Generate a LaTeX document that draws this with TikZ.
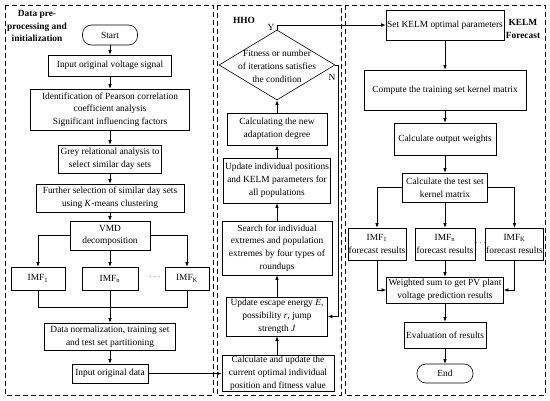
\documentclass[tikz,border=0pt]{standalone}
\usepackage{fontspec}
\setmainfont{Liberation Serif}
\usetikzlibrary{shapes.geometric,arrows.meta}
\begin{document}
\begin{tikzpicture}[x=1pt,y=-1pt,
  every node/.style={font=\fontsize{9.4}{12.8}\selectfont},
  box/.style={draw,line width=0.6pt,align=center,inner sep=1.2pt},
  term/.style={box,rounded corners=9pt},
  panel/.style={draw,line width=0.9pt,dash pattern=on 5pt off 3pt},
  arr/.style={line width=0.6pt,-{Latex[length=4.5pt,width=3.5pt]}},
  ln/.style={line width=0.6pt},
  ttl/.style={font=\fontsize{9.4}{12.8}\selectfont\bfseries,align=center,inner sep=0pt}]
\fill[white] (0,0) rectangle (550,400);
\useasboundingbox (0,0) rectangle (550,400);

% panels
\draw[panel] (5,5) rectangle (213,395);
\draw[panel] (217,5) rectangle (341,395);
\draw[panel] (345,5) rectangle (545,395);

% ---------- left panel ----------
\node[ttl] (t1) at (37,26) {Data pre-\\processing and\\initialization};
\node[term,minimum width=55,minimum height=20] (start) at (110,35) {Start};
\node[box,minimum width=123,minimum height=21] (in1) at (110,65.5) {Input original voltage signal};
\node[box,minimum width=159,minimum height=41] (pear) at (110,109.5) {Identification of Pearson correlation\\coefficient analysis\\Significant influencing factors};
\node[box,minimum width=103,minimum height=28] (grey) at (110,159) {Grey relational analysis to\\select similar day sets};
\node[box,minimum width=148,minimum height=28] (kmeans) at (110,198) {Further selection of similar day sets\\using \textit{K}-means clustering};
\node[box,minimum width=80,minimum height=29] (vmd) at (110,235.5) {VMD\\decomposition};
\node[box,minimum width=54,minimum height=23] (imf1) at (38,278.5) {IMF\textsubscript{1}};
\node[box,minimum width=56,minimum height=23] (imfn) at (110,278.5) {IMF\textsubscript{n}};
\node (dots1) at (155,277) {$\cdots$};
\node[box,minimum width=44,minimum height=23] (imfK) at (187,278.5) {IMF\textsubscript{K}};
\node[box,minimum width=131,minimum height=27] (norm) at (110,336.5) {Data normalization, training set\\and test set partitioning};
\node[box,minimum width=76,minimum height=19] (indata) at (110,373.5) {Input original data};

\draw[arr] (start) -- (in1);
\draw[arr] (in1) -- (pear);
\draw[arr] (pear) -- (grey);
\draw[arr] (grey) -- (kmeans);
\draw[arr] (kmeans) -- (vmd);
\draw[arr] (vmd.west) -| (imf1.north);
\draw[arr] (vmd) -- (imfn);
\draw[arr] (vmd.east) -| (imfK.north);
\coordinate (m1) at (110,307);
\draw[ln] (imf1.south) |- (m1);
\draw[ln] (imfK.south) |- (m1);
\draw[arr] (imfn) -- (norm);
\draw[arr] (norm) -- (indata);

% ---------- HHO panel ----------
\node[ttl] (t2) at (244,20) {HHO};
\node[draw,line width=0.6pt,diamond,minimum width=116,minimum height=70,inner sep=0pt] (dec) at (277,65) {};
\node[align=center,inner sep=0pt] (dectxt) at (277,66) {Fitness or number\\of iterations satisfies\\the condition};
\node (ylab) at (271,27) {Y};
\node (nlab) at (332,77) {N};
\node[box,minimum width=100,minimum height=32] (adapt) at (277,129) {Calculating the new\\adaptation degree};
\node[box,minimum width=107,minimum height=45] (upd) at (277,180.5) {Update individual positions\\and KELM parameters for\\all populations};
\node[box,minimum width=110,minimum height=54] (search) at (277,248) {Search for individual\\extremes and population\\extremes by four types of\\roundups};
\node[box,minimum width=101,minimum height=39] (escape) at (277,316.5) {Update escape energy \textit{E},\\possibility \textit{r}, jump\\strength \textit{J}};
\node[box,minimum width=112,minimum height=36] (calc) at (278,373.5) {Calculate and update the\\current optimal individual\\position and fitness value};

\draw[arr] (indata.east) -- (calc.west);
\draw[arr] (calc.north -| escape.south) -- (escape.south);
\draw[arr] (escape) -- (search);
\draw[arr] (search) -- (upd);
\draw[arr] (upd) -- (adapt);
\draw[arr] (adapt) -- (dec.south);
\coordinate (nx) at (338.5,65);
\draw[arr] (dec.east) -- (nx) |- (escape.east);

% ---------- KELM panel ----------
\node[ttl] (t3) at (523,29) {KELM\\Forecast};
\node[box,minimum width=118,minimum height=30] (setk) at (445,25) {Set KELM optimal parameters};
\node[box,minimum width=162,minimum height=40] (train) at (445,90) {Compute the training set kernel matrix};
\node[box,minimum width=102,minimum height=32] (weights) at (445,139) {Calculate output weights};
\node[box,minimum width=85,minimum height=29] (testk) at (445,187.5) {Calculate the test set\\kernel matrix};
\node[box,minimum width=58,minimum height=32,inner xsep=0.5pt] (f1) at (377,244) {IMF\textsubscript{1}\\forecast results};
\node[box,minimum width=60,minimum height=32,inner xsep=0.5pt] (fn) at (445,244) {IMF\textsubscript{n}\\forecast results};
\node (dots2) at (480.5,243) {$\cdots$};
\node[box,minimum width=57,minimum height=32,inner xsep=0.5pt] (fK) at (514.5,244) {IMF\textsubscript{K}\\forecast results};
\node[box,minimum width=117,minimum height=26] (wsum) at (445,290) {Weighted sum to get PV plant\\voltage prediction results};
\node[box,minimum width=82,minimum height=26] (eval) at (445,335) {Evaluation of results};
\node[term,minimum width=56,minimum height=19] (end) at (445,373.5) {End};

\draw[arr] (dec.north) |- (setk.west);
\draw[arr] (setk) -- (train);
\draw[arr] (train) -- (weights);
\draw[arr] (weights) -- (testk);
\draw[arr] (testk.west) -| (f1.north);
\draw[arr] (testk) -- (fn);
\draw[arr] (testk.east) -| (fK.north);
\draw[arr] (f1.south) |- (wsum.west);
\draw[arr] (fn) -- (wsum);
\draw[arr] (fK.south) |- (wsum.east);
\draw[arr] (wsum) -- (eval);
\draw[arr] (eval) -- (end);
\end{tikzpicture}
\end{document}
